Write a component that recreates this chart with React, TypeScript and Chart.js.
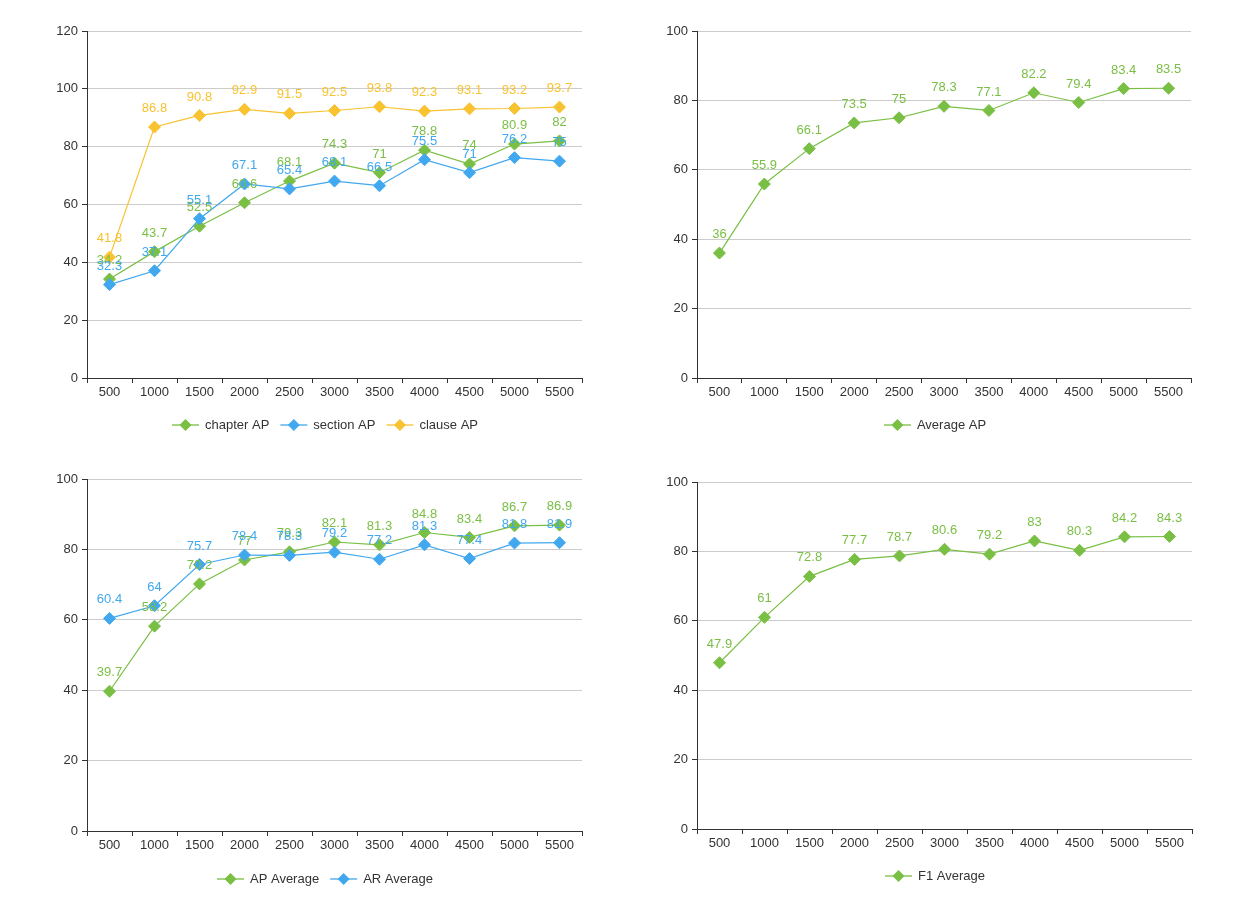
import React, { useEffect, useRef } from "react";
import { Chart, registerables } from "chart.js";
Chart.register(...registerables);

const categories = ["500", "1000", "1500", "2000", "2500", "3000", "3500", "4000", "4500", "5000", "5500"];

const chapterAP = [34.2, 43.7, 52.5, 60.6, 68.1, 74.3, 71, 78.8, 74, 80.9, 82];
const sectionAP = [32.3, 37.1, 55.1, 67.1, 65.4, 68.1, 66.5, 75.5, 71, 76.2, 75];
const clauseAP = [41.8, 86.8, 90.8, 92.9, 91.5, 92.5, 93.8, 92.3, 93.1, 93.2, 93.7];

const averageAP = [36, 55.9, 66.1, 73.5, 75, 78.3, 77.1, 82.2, 79.4, 83.4, 83.5];

const apAverage = [39.7, 58.2, 70.2, 77, 79.3, 82.1, 81.3, 84.8, 83.4, 86.7, 86.9];
const arAverage = [60.4, 64, 75.7, 78.4, 78.3, 79.2, 77.2, 81.3, 77.4, 81.8, 81.9];

const f1Average = [47.9, 61, 72.8, 77.7, 78.7, 80.6, 79.2, 83, 80.3, 84.2, 84.3];

const GREEN = "#79bf44";
const BLUE = "#41a8ef";
const YELLOW = "#f8c230";
const FONT = '"Liberation Sans", Arial, sans-serif';

type Series = { label: string; data: number[]; color: string };
type PanelProps = {
  left: number;
  top: number;
  width: number;
  height: number;
  area: [number, number, number, number];
  yMax: number;
  series: Series[];
  legendY: number;
  legendCx: number;
};

function drawDiamond(ctx: CanvasRenderingContext2D, x: number, y: number, r: number) {
  ctx.beginPath();
  ctx.moveTo(x - r, y);
  ctx.lineTo(x, y - r);
  ctx.lineTo(x + r, y);
  ctx.lineTo(x, y + r);
  ctx.closePath();
  ctx.fill();
}

function Panel(props: PanelProps) {
  const ref = useRef<HTMLCanvasElement | null>(null);
  useEffect(() => {
    const canvas = ref.current;
    if (!canvas) return;
    const { width, height, area, yMax, series, legendY, legendCx } = props;
    const [al, at, ar, ab] = area;
    const xAxisH = 30;

    const valueLabels = {
      id: "valueLabels",
      afterDatasetsDraw(chart: any) {
        const ctx = chart.ctx as CanvasRenderingContext2D;
        ctx.save();
        ctx.font = `13px ${FONT}`;
        ctx.textAlign = "center";
        ctx.textBaseline = "middle";
        chart.data.datasets.forEach((ds: any, i: number) => {
          const meta = chart.getDatasetMeta(i);
          ctx.fillStyle = ds.borderColor;
          meta.data.forEach((pt: any, j: number) => {
            ctx.fillText(String(ds.data[j]), pt.x, pt.y - 18.5);
          });
        });
        ctx.restore();
      },
    };

    const customLegend = {
      id: "customLegend",
      afterDraw(chart: any) {
        const ctx = chart.ctx as CanvasRenderingContext2D;
        ctx.save();
        ctx.font = `13px ${FONT}`;
        const lineW = 27;
        const gapText = 6;
        const gapItem = 11;
        const items = chart.data.datasets.map((ds: any) => ({
          label: ds.label as string,
          color: ds.borderColor as string,
          w: lineW + gapText + ctx.measureText(ds.label).width,
        }));
        const total = items.reduce((s: number, it: any) => s + it.w, 0) + gapItem * (items.length - 1);
        let x = legendCx - total / 2;
        items.forEach((it: any) => {
          ctx.globalAlpha = 0.65;
          ctx.strokeStyle = it.color;
          ctx.lineWidth = 2;
          ctx.beginPath();
          ctx.moveTo(x, legendY);
          ctx.lineTo(x + lineW, legendY);
          ctx.stroke();
          ctx.globalAlpha = 1;
          ctx.fillStyle = it.color;
          drawDiamond(ctx, x + lineW / 2, legendY, 6);
          ctx.fillStyle = "#333";
          ctx.textAlign = "left";
          ctx.textBaseline = "middle";
          ctx.fillText(it.label, x + lineW + gapText, legendY + 0.5);
          x += it.w + gapItem;
        });
        ctx.restore();
      },
    };

    const n = series.length;
    const chart = new Chart(canvas, {
      type: "line",
      data: {
        labels: categories,
        datasets: series.map((s, i) => ({
          label: s.label,
          data: s.data,
          borderColor: s.color,
          backgroundColor: s.color,
          pointBackgroundColor: s.color,
          pointBorderColor: s.color,
          pointStyle: "rectRot",
          pointRadius: 6,
          pointBorderWidth: 1,
          borderWidth: 1.2,
          tension: 0,
          fill: false,
          order: n - i,
        })),
      },
      options: {
        animation: false,
        responsive: false,
        devicePixelRatio: 1,
        layout: {
          padding: { left: 0, top: at, right: width - ar, bottom: height - ab - xAxisH },
        },
        plugins: {
          legend: { display: false },
          tooltip: { enabled: false },
        },
        scales: {
          x: {
            type: "category",
            offset: true,
            grid: {
              display: true,
              drawOnChartArea: false,
              drawTicks: true,
              tickLength: 5,
              tickColor: "#333",
              offset: true,
            },
            border: { color: "#333", width: 1 },
            ticks: {
              color: "#333",
              font: { family: FONT, size: 13 },
              padding: 2,
              autoSkip: false,
              maxRotation: 0,
            },
            afterFit: (s: any) => {
              s.height = xAxisH;
            },
          },
          y: {
            min: 0,
            max: yMax,
            ticks: {
              stepSize: 20,
              color: "#333",
              font: { family: FONT, size: 13 },
              padding: 4,
            },
            grid: {
              color: (c: any) => (c.tick && c.tick.value === 0 ? "rgba(0,0,0,0)" : "#cccccc"),
              tickLength: 5,
              tickColor: "#333",
            },
            border: { color: "#333", width: 1 },
            afterFit: (s: any) => {
              s.width = al;
            },
          },
        },
      } as any,
      plugins: [valueLabels, customLegend],
    });
    return () => chart.destroy();
  }, []);
  return (
    <canvas
      ref={ref}
      width={props.width}
      height={props.height}
      style={{ position: "absolute", left: props.left, top: props.top, display: "block" }}
    />
  );
}

export default function App() {
  return (
    <div style={{ position: "absolute", left: 0, top: 0, width: 1251, height: 920, background: "#fff" }}>
      <Panel
        left={0}
        top={0}
        width={625}
        height={450}
        area={[87, 31, 582, 378]}
        yMax={120}
        series={[
          { label: "chapter AP", data: chapterAP, color: GREEN },
          { label: "section AP", data: sectionAP, color: BLUE },
          { label: "clause AP", data: clauseAP, color: YELLOW },
        ]}
        legendY={425}
        legendCx={325}
      />
      <Panel
        left={625}
        top={0}
        width={626}
        height={450}
        area={[72, 31, 566, 378]}
        yMax={100}
        series={[{ label: "Average AP", data: averageAP, color: GREEN }]}
        legendY={425}
        legendCx={310}
      />
      <Panel
        left={0}
        top={450}
        width={625}
        height={470}
        area={[87, 29, 582, 381]}
        yMax={100}
        series={[
          { label: "AP Average", data: apAverage, color: GREEN },
          { label: "AR Average", data: arAverage, color: BLUE },
        ]}
        legendY={429}
        legendCx={325}
      />
      <Panel
        left={625}
        top={450}
        width={626}
        height={470}
        area={[72, 32, 567, 379]}
        yMax={100}
        series={[{ label: "F1 Average", data: f1Average, color: GREEN }]}
        legendY={426}
        legendCx={310}
      />
    </div>
  );
}
